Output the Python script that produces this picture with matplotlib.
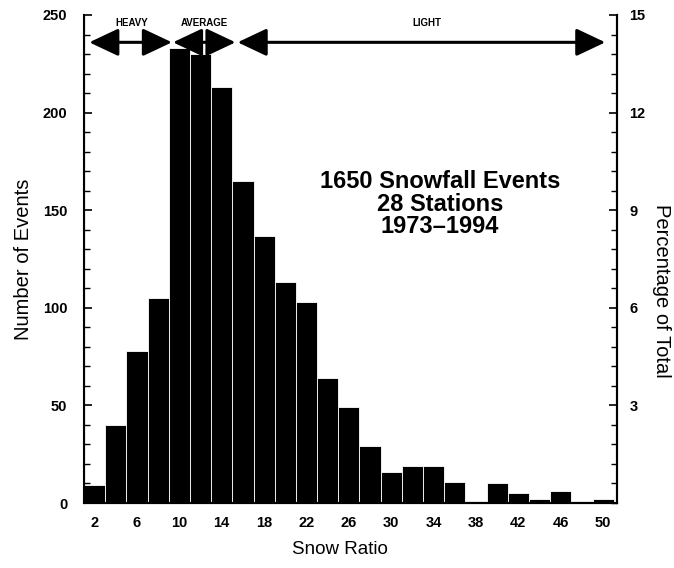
import numpy as np
import matplotlib.pyplot as plt
from matplotlib.ticker import MultipleLocator

plt.rcParams['font.family'] = ['Liberation Sans', 'DejaVu Sans']

# snow ratio bins (centre of 2-wide bins) and event counts
ratio = [2, 4, 6, 8, 10, 12, 14, 16, 18, 20, 22, 24, 26, 28, 30, 32, 34, 36,
         38, 40, 42, 44, 46, 48, 50]
events = [9, 40, 78, 105, 233, 230, 213, 165, 137, 113, 103, 64, 49, 29, 16,
          19, 19, 11, 1, 10, 5, 2, 6, 1, 2]

# snow ratio classes shown with arrows along the top
classes = ['HEAVY', 'AVERAGE', 'LIGHT']
class_lo = [1.5, 9.4, 15.5]
class_hi = [9.3, 15.3, 50.2]
class_label_x = [5.5, 12.4, 33.4]

x_ticks = [2, 6, 10, 14, 18, 22, 26, 30, 34, 38, 42, 46, 50]
pct_ticks = [3, 6, 9, 12, 15]

fig = plt.figure(figsize=(6.74, 5.68), dpi=100)
ax = fig.add_axes([0.1246, 0.1144, 0.7908, 0.8592])

ax.bar(ratio, events, width=2, color='black', edgecolor='white', linewidth=0.6)
ax.set_xlim(1, 51.3)
ax.set_ylim(0, 250)

ax.spines['top'].set_visible(False)
for s in ['left', 'bottom', 'right']:
    ax.spines[s].set_linewidth(1.5)

ax.set_xticks(x_ticks)
ax.set_yticks(np.arange(0, 251, 50))
ax.yaxis.set_minor_locator(MultipleLocator(10))
ax.tick_params(axis='x', length=0, pad=9, labelsize=10.5)
ax.tick_params(axis='y', which='major', direction='in', length=6, width=1.2, pad=12, labelsize=10.5)
ax.tick_params(axis='y', which='minor', direction='in', length=4, width=1)
for lab in ax.get_xticklabels() + ax.get_yticklabels():
    lab.set_fontweight('bold')

ax.set_xlabel('Snow Ratio', fontsize=13.5, va='center')
ax.xaxis.set_label_coords(0.48, -0.096)
ax.set_ylabel('Number of Events', fontsize=14.5, va='center')
ax.yaxis.set_label_coords(-0.113, 0.5)

# right axis: percentage of total
ax2 = ax.twinx()
ax2.set_ylim(0, 15)
ax2.set_yticks(pct_ticks)
ax2.yaxis.set_minor_locator(MultipleLocator(0.6))
ax2.spines['top'].set_visible(False)
ax2.spines['right'].set_linewidth(1.5)
ax2.tick_params(axis='y', which='major', direction='in', length=6, width=1.2, pad=9, labelsize=10.5)
ax2.tick_params(axis='y', which='minor', direction='in', length=4, width=1)
for lab in ax2.get_yticklabels():
    lab.set_fontweight('bold')
ax2.set_ylabel('Percentage of Total', fontsize=14.5, rotation=270, va='center')
ax2.yaxis.set_label_coords(1.083, 0.435)

# class arrows
y_arr = 236
for name, lo, hi, lx in zip(classes, class_lo, class_hi, class_label_x):
    ax.annotate('', xy=(lo, y_arr), xytext=(hi, y_arr),
                arrowprops=dict(arrowstyle='<|-|>,head_length=1.8,head_width=0.85',
                                color='black', lw=2.2, shrinkA=0, shrinkB=0,
                                mutation_scale=10),
                annotation_clip=False)
    ax.text(lx, 246, name, ha='center', va='center', fontsize=7, fontweight='bold')

ax.text(34.6, 153, '1650 Snowfall Events\n28 Stations\n1973\u20131994',
        ha='center', va='center', fontsize=17, fontweight='bold', linespacing=0.98)

fig.savefig('out.png', dpi=100)
